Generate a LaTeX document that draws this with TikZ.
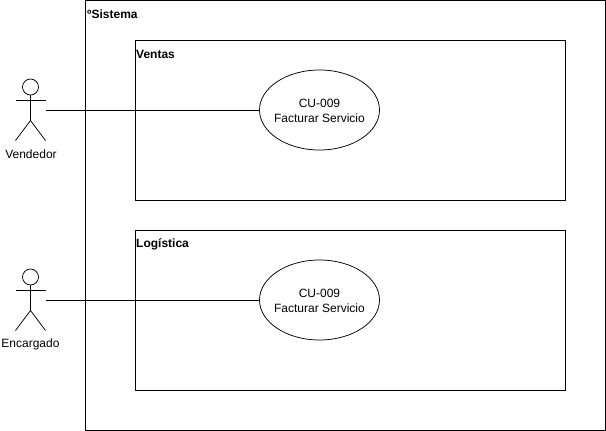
\documentclass[tikz,border=0pt]{standalone}
\usepackage{fontspec}
\setmainfont{Liberation Sans}
\usetikzlibrary{shapes.geometric}
\tikzset{
  boxed/.style={draw=black,line width=0.75pt,fill=none,rectangle,minimum width=#1,inner sep=0pt,outer sep=0pt},
  usecase/.style={draw=black,line width=0.75pt,ellipse,minimum width=120pt,minimum height=80pt,inner sep=0pt,outer sep=0pt},
  usetext/.style={align=center,inner sep=0pt,font=\fontsize{12}{15}\selectfont},
  head/.style={draw=black,line width=0.75pt,circle,minimum size=16pt,inner sep=0pt,outer sep=0pt},
  actorname/.style={font=\fontsize{12}{14}\selectfont,inner sep=0pt},
  title/.style={font=\fontsize{12}{14}\selectfont\bfseries,inner sep=0pt,anchor=west},
  link/.style={draw=black,line width=0.75pt},
}
\begin{document}
\begin{tikzpicture}[x=1pt,y=-1pt]
\useasboundingbox (0,0) rectangle (606,431);
\fill[white] (0,0) rectangle (606,431);
% frames
\node[boxed=520pt,minimum height=430pt] (sistema) at (345.5,215.5) {};
\node[boxed=430pt,minimum height=160pt] (ventas) at (350.5,120.5) {};
\node[boxed=430pt,minimum height=160pt] (logistica) at (350.5,310.5) {};
\node[title] (tsistema) at (87,14) {ºSistema};
\node[title] (tventas) at (136,54) {Ventas};
\node[title] (tlogistica) at (136,244.6) {Logística};
% use cases
\node[usecase] (uc1) at (319.5,110) {};
\node[usetext] (ut1) at (319.5,110.6) {CU-009\\Facturar Servicio};
\node[usecase] (uc2) at (319.5,300) {};
\node[usetext] (ut2) at (319.5,300.6) {CU-009\\Facturar Servicio};
% actor 1
\node[head] (h1) at (30.5,87) {};
\coordinate (n1) at (30.5,120.5);
\coordinate (la1) at (15.5,100.5);
\coordinate (ra1) at (45.5,100.5);
\coordinate (lf1) at (15.5,140.5);
\coordinate (rf1) at (45.5,140.5);
\coordinate (p1) at (45.5,110.5);
\draw[link] (h1.south) -- (n1);
\draw[link] (la1) -- (ra1);
\draw[link] (lf1) -- (n1) -- (rf1);
\node[actorname] (a1) at (31,154) {Vendedor};
\draw[link] (p1) -- (uc1.west |- p1);
% actor 2
\node[head] (h2) at (30.5,277) {};
\coordinate (n2) at (30.5,310.5);
\coordinate (la2) at (15.5,290.5);
\coordinate (ra2) at (45.5,290.5);
\coordinate (lf2) at (15.5,330.5);
\coordinate (rf2) at (45.5,330.5);
\coordinate (p2) at (45.5,300.5);
\draw[link] (h2.south) -- (n2);
\draw[link] (la2) -- (ra2);
\draw[link] (lf2) -- (n2) -- (rf2);
\node[actorname] (a2) at (30.5,344.6) {Encargado};
\draw[link] (p2) -- (uc2.west |- p2);
\end{tikzpicture}
\end{document}
